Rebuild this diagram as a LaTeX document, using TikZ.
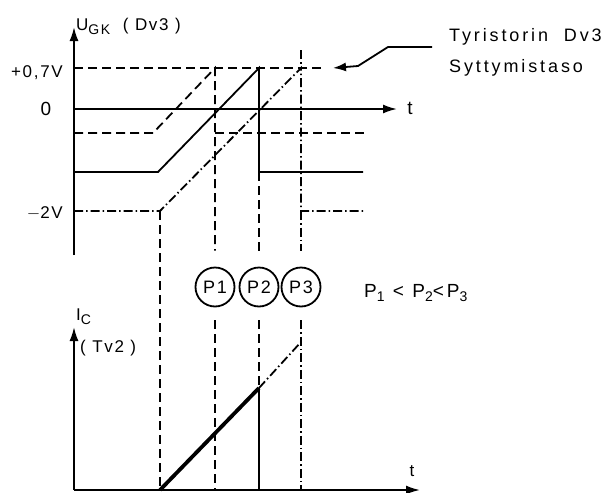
\documentclass[tikz,border=0pt]{standalone}
\usepackage{fontspec}
\setmainfont{Liberation Sans}[LetterSpace=10]
\newfontfamily\widefont{Liberation Sans}[LetterSpace=16]
\usetikzlibrary{arrows.meta}
\newcommand{\lsub}[1]{\raisebox{-4pt}{\fontsize{14}{14}\selectfont #1}}

\begin{document}
\begin{tikzpicture}[x=1pt,y=-1pt,
  ln/.style={line width=1.8pt},
  dsh/.style={ln,dash pattern=on 9pt off 5pt},
  dshdot/.style={ln,dash pattern=on 9pt off 3pt on 1.5pt off 3pt},
  axis/.style={line width=1.9pt,-{Latex[length=14pt,width=9pt]}},
  pcirc/.style={circle,draw,line width=1.8pt,minimum size=39pt,inner sep=0pt,font=\fontsize{18}{18}\selectfont},
  lbl/.style={inner sep=0pt,font=\fontsize{17}{19}\selectfont}]
\path[use as bounding box] (0,0) rectangle (611,493);

% gate voltage U_GK
\draw[axis] (74,255) -- (74,27);
\draw[axis] (74,109) -- (397,109);
\node[lbl,anchor=base west] (ugk) at (76,30) {U\lsub{GK}\ \ ( Dv3 )};
\node[lbl,anchor=east] (lvtop) at (63,73) {+0,7V};
\node[lbl,font=\fontsize{19}{19}\selectfont] (lvzero) at (46,109) {0};
\node[lbl,anchor=east] (lvlow) at (63,213) {$-$2V};
\node[lbl,font=\fontsize{19}{19}\selectfont] (tup) at (410,108) {t};

% P1, P2, P3
\node[pcirc] (p1) at (215,287) {P1};
\node[pcirc] (p2) at (259,287) {P2};
\node[pcirc] (p3) at (301,287) {P3};
\node[lbl,anchor=base west,font=\fontsize{19}{19}\widefont] (ineq) at (364,297) {P\lsub{1} < P\lsub{2}<P\lsub{3}};

% ignition level
\draw[dsh] (74,68) -- (325,68);
\node[lbl,anchor=north west,align=left,font=\fontsize{18}{31}\widefont] (note) at (449,28) {Tyristorin\ \ Dv3\\Syttymistaso};
\coordinate (notetail) at (432,47);
\coordinate (fire) at (333,68);
\draw[ln,-{Latex[length=13pt,width=9pt]}] (notetail) -- (388,47) -- (358,66) -- (fire);

% three control voltages
\draw[dsh] (74,133) -- (153,133) -- (215,68) -- ([yshift=16pt]p1.north);
\draw[dsh] (215,133) -- (365,133);
\draw[ln] (74,172) -- (158,172) -- (259,68) -- (259,172) -- (363,172);
\draw[dsh] (259,172) -- ([yshift=16pt]p2.north);
\draw[dshdot] (74,211) -- (160,211) -- (301,68) -- (301,211) -- (365,211);
\draw[dshdot] (301,50) -- (301,68);
\draw[dshdot] (301,211) -- ([yshift=16pt]p3.north);
\draw[dsh] (160,211) -- (160,490);

% collector current I_C
\draw[axis] (74,490) -- (74,327);
\draw[axis] (74,490) -- (420,490);
\node[lbl,anchor=base west] (ic) at (76,320) {I\lsub{C}};
\node[lbl,anchor=base west] (tv2) at (80,352) {( Tv2 )};
\node[lbl] (tlow) at (412,471) {t};
\draw[dsh] ([yshift=-13pt]p1.south) -- (215,490);
\draw[dsh] ([yshift=-13pt]p2.south) -- (259,490);
\draw[dshdot] ([yshift=-13pt]p3.south) -- (301,490);
\draw[line width=3.8pt] (160,490) -- (259,388);
\draw[ln] (259,388) -- (259,490);
\draw[dshdot] (259,388) -- (301,342);
\end{tikzpicture}
\end{document}
